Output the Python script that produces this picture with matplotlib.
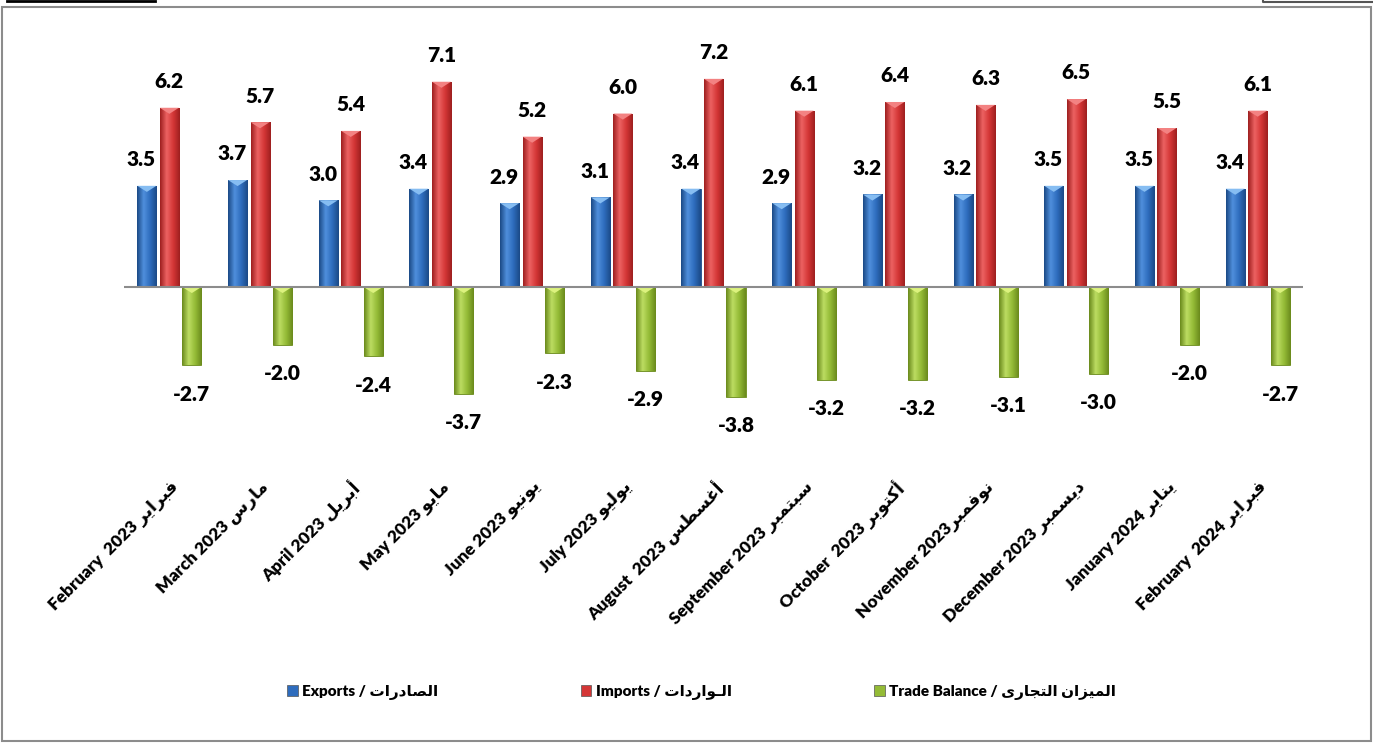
import numpy as np
import matplotlib
matplotlib.use("Agg")
import matplotlib.pyplot as plt
from matplotlib.colors import LinearSegmentedColormap
from matplotlib.patches import Rectangle, Polygon
from matplotlib.lines import Line2D

plt.rcParams['font.family'] = ['Lato', 'DejaVu Sans']

# data
months_en = ['February  2023', 'March 2023', 'April 2023', 'May 2023', 'June 2023',
             'July 2023', 'August  2023', 'September 2023', 'October  2023',
             'November 2023', 'December 2023', 'January 2024', 'February  2024']
months_ar = ['فبراير', 'مارس', 'أبريل', 'مايو', 'يونيو', 'يوليو', 'أغسطس',
             'سبتمبر', 'أكتوبر', 'نوفمبر', 'ديسمبر', 'يناير', 'فبراير']
exports = [3.5, 3.7, 3.0, 3.4, 2.9, 3.1, 3.4, 2.9, 3.2, 3.2, 3.5, 3.5, 3.4]
imports = [6.2, 5.7, 5.4, 7.1, 5.2, 6.0, 7.2, 6.1, 6.4, 6.3, 6.5, 5.5, 6.1]
balance = [-2.7, -2.0, -2.4, -3.7, -2.3, -2.9, -3.8, -3.2, -3.2, -3.1, -3.0, -2.0, -2.7]
legend_en = ['Exports / ', 'Imports / ', 'Trade Balance / ']
legend_ar = ['الصادرات', 'الـواردات', 'الميزان التجارى']

# arabic contextual forms (iso, final, initial, medial), matplotlib has no shaping
FORMS = {
    'ا': ('\uFE8D', '\uFE8E', None, None),
    'أ': ('\uFE83', '\uFE84', None, None),
    'ب': ('\uFE8F', '\uFE90', '\uFE91', '\uFE92'),
    'ت': ('\uFE95', '\uFE96', '\uFE97', '\uFE98'),
    'ج': ('\uFE9D', '\uFE9E', '\uFE9F', '\uFEA0'),
    'د': ('\uFEA9', '\uFEAA', None, None),
    'ر': ('\uFEAD', '\uFEAE', None, None),
    'ز': ('\uFEAF', '\uFEB0', None, None),
    'س': ('\uFEB1', '\uFEB2', '\uFEB3', '\uFEB4'),
    'ص': ('\uFEB9', '\uFEBA', '\uFEBB', '\uFEBC'),
    'ط': ('\uFEC1', '\uFEC2', '\uFEC3', '\uFEC4'),
    'غ': ('\uFECD', '\uFECE', '\uFECF', '\uFED0'),
    'ف': ('\uFED1', '\uFED2', '\uFED3', '\uFED4'),
    'ك': ('\uFED9', '\uFEDA', '\uFEDB', '\uFEDC'),
    'ل': ('\uFEDD', '\uFEDE', '\uFEDF', '\uFEE0'),
    'م': ('\uFEE1', '\uFEE2', '\uFEE3', '\uFEE4'),
    'ن': ('\uFEE5', '\uFEE6', '\uFEE7', '\uFEE8'),
    'و': ('\uFEED', '\uFEEE', None, None),
    'ى': ('\uFEEF', '\uFEF0', '\uFBE8', '\uFBE9'),
    'ي': ('\uFEF1', '\uFEF2', '\uFEF3', '\uFEF4'),
    'ـ': ('ـ', 'ـ', 'ـ', 'ـ'),
}


def ar(txt):
    out = []
    for i, c in enumerate(txt):
        if c not in FORMS:
            out.append(c)
            continue
        prev = txt[i - 1] if i > 0 else None
        nxt = txt[i + 1] if i + 1 < len(txt) else None
        iso, fin, ini, med = FORMS[c]
        jp = prev in FORMS and FORMS[prev][2] is not None
        jn = ini is not None and nxt in FORMS
        if jp and jn:
            out.append(med)
        elif jp:
            out.append(fin)
        elif jn:
            out.append(ini)
        else:
            out.append(iso)
    return ''.join(reversed(out))


labels = []
for en, a in zip(months_en, months_ar):
    sep = '' if en.startswith('November') else ' '
    labels.append(en + sep + ar(a))

fig = plt.figure(figsize=(13.73, 7.45), dpi=100)
ax = fig.add_axes([124 / 1373, 1 - 470 / 745, (1303 - 124) / 1373, 440 / 745])

x = np.arange(len(exports))
w = 0.21
off = 0.248
series = [
    (exports, -off, ['#1b4a86', '#4f8fdc', '#2e6cbd', '#1b4a86'], '#86bdf2'),
    (imports, 0, ['#9e1f1f', '#ec6262', '#d43636', '#9e1f1f'], '#f38282'),
    (balance, off, ['#6a8a1c', '#bcdc62', '#94bb36', '#6a8a1c'], '#dcf27e'),
]
legend_colors = ['#2e6cbd', '#d43636', '#94bb36']

ax.set_xlim(-0.5, len(x) - 0.5)
ax.set_ylim(-6.33, 8.89)
tri_h = 0.21

for vals, dx, cols, light in series:
    cmap = LinearSegmentedColormap.from_list('g', cols)
    bars = ax.bar(x + dx, vals, width=w, color=cols[2], edgecolor=cols[0],
                  linewidth=0.6, zorder=2)
    grad = np.linspace(0, 1, 64).reshape(1, -1)
    for b in bars:
        bx, by, bw, bh = b.get_x(), b.get_y(), b.get_width(), b.get_height()
        y0, y1 = min(by, by + bh), max(by, by + bh)
        im = ax.imshow(grad, cmap=cmap, extent=[bx, bx + bw, y0, y1],
                       aspect='auto', zorder=2.5)
        im.set_clip_path(b)
        ax.add_patch(Polygon([[bx, y1], [bx + bw, y1], [bx + bw / 2, y1 - tri_h]],
                             closed=True, color=light, lw=0, zorder=3))

ax.set_xlim(-0.5, len(x) - 0.5)
ax.set_ylim(-6.33, 8.89)

ax.axhline(0, color='#8c8c8c', lw=1.5, zorder=4)

lbl = dict(textcoords='offset points', ha='center', fontsize=15, fontweight='heavy')
for i in range(len(x)):
    ax.annotate(f'{exports[i]:.1f}', (x[i] - off, exports[i]), xytext=(-4, 12),
                va='bottom', **lbl)
    ax.annotate(f'{imports[i]:.1f}', (x[i], imports[i]), xytext=(0, 12),
                va='bottom', **lbl)
    ax.annotate(f'{balance[i]:.1f}', (x[i] + off, balance[i]), xytext=(0, -14),
                va='top', **lbl)

ax.set_xticks(x)
ax.set_xticklabels(labels, rotation=45, ha='right', va='top',
                   rotation_mode='anchor', fontsize=12.5, fontweight='heavy')
ax.tick_params(axis='x', length=0, pad=6)
ax.set_yticks([])
for s in ax.spines.values():
    s.set_visible(False)
ax.patch.set_alpha(0)

handles = [Rectangle((0, 0), 1, 1, facecolor=c, edgecolor='#555555', lw=0.5)
           for c in legend_colors]
leg_labels = [e + ar(a) for e, a in zip(legend_en, legend_ar)]
fig.legend(handles, leg_labels, loc='center', bbox_to_anchor=(0.511, 0.071),
           ncol=3, frameon=False, columnspacing=9.3, handlelength=0.7,
           handleheight=0.7, handletextpad=0.3,
           prop={'size': 11, 'weight': 'heavy'})

# outer frame and the bits of lines at the top
fig.patches.append(Rectangle((2 / 1373, 1 - 741 / 745), 1369 / 1373, 734 / 745,
                             transform=fig.transFigure, fill=False,
                             edgecolor='#8c8c8c', lw=1.5))
fig.lines.append(Line2D([7 / 1373, 155 / 1373], [1 - 1 / 745, 1 - 1 / 745],
                        transform=fig.transFigure, color='black', lw=2))
fig.lines.append(Line2D([1263 / 1373, 1263 / 1373, 1], [1, 1 - 2 / 745, 1 - 2 / 745],
                        transform=fig.transFigure, color='#555555', lw=1.5))

fig.savefig('out.png', dpi=100)
